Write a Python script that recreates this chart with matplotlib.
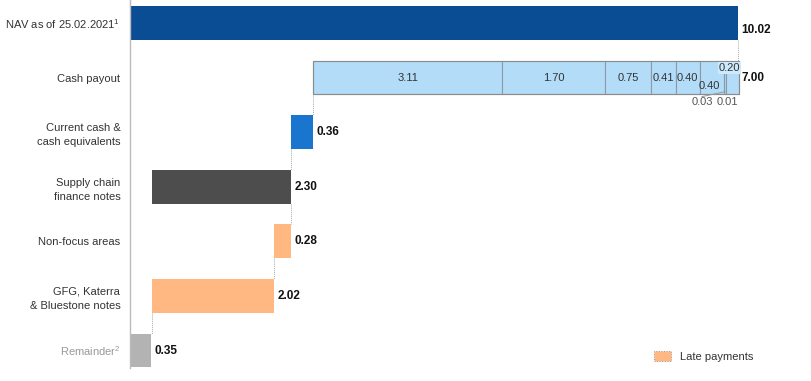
import numpy as np
import matplotlib.pyplot as plt
from matplotlib.patches import Patch

plt.rcParams['font.family'] = ['Liberation Sans', 'DejaVu Sans']
plt.rcParams['mathtext.fontset'] = 'custom'
plt.rcParams['mathtext.rm'] = 'Liberation Sans'

categories = ['NAV as of 25.02.2021$^{1}$', 'Cash payout', 'Current cash &\ncash equivalents',
              'Supply chain\nfinance notes', 'Non-focus areas', 'GFG, Katerra\n& Bluestone notes',
              'Remainder$^{2}$']
values = [10.02, 7.00, 0.36, 2.30, 0.28, 2.02, 0.35]
value_labels = ['10.02', '7.00', '0.36', '2.30', '0.28', '2.02', '0.35']
colors = ['#0b4d94', '#b3dcf8', '#1a75cf', '#4d4d4d', '#ffb882', '#ffb882', '#b3b3b3']

cash_parts = [3.11, 1.70, 0.75, 0.41, 0.40, 0.40, 0.03, 0.01, 0.20]
cash_part_labels = ['3.11', '1.70', '0.75', '0.41', '0.40', '0.40', '0.03', '0.01', '0.20']

# waterfall positions
nav = values[0]
lefts = [0.0] * 7
lefts[1] = nav - values[1]
lefts[2] = lefts[1] - values[2]
lefts[3] = lefts[2] - values[3]
lefts[4] = lefts[2] - values[4]
lefts[5] = lefts[4] - values[5]
lefts[6] = 0.0

fig = plt.figure(figsize=(8.11, 3.81), dpi=100)
ax = fig.add_axes([130 / 811, 13 / 381, 681 / 811, 368 / 381])
ax.set_xlim(0, 681 / 60.68)
ax.set_ylim(6.32, -0.42)

h = 0.62
y = np.arange(7)
for i in range(7):
    if i == 1:
        continue
    ax.barh(y[i], values[i], left=lefts[i], height=h, color=colors[i], edgecolor='none', zorder=2)

# cash payout split into parts
start = lefts[1]
seg_x = []
for v in cash_parts:
    ax.barh(1, v, left=start, height=h, color='#b3dcf8', edgecolor='#8c9aa8', linewidth=0.8, zorder=2)
    seg_x.append(start + v / 2)
    start += v
ax.barh(1, sum(cash_parts), left=lefts[1], height=h, color='none', edgecolor='#8c8c8c', linewidth=0.8, zorder=3)

fs = 8
for k in range(5):
    ax.text(seg_x[k], 1, cash_part_labels[k], ha='center', va='center', fontsize=fs, color='#333333', zorder=4)
ax.text(seg_x[5] - 0.05, 1.15, cash_part_labels[5], ha='center', va='center', fontsize=fs, color='#333333', zorder=4)
ax.text(seg_x[8] - 0.05, 0.83, cash_part_labels[8], ha='center', va='center', fontsize=fs, color='#333333', zorder=4,
        bbox=dict(boxstyle='square,pad=0.1', fc='#cde9fb', ec='none'))
ax.text(seg_x[6] - 0.38, 1.45, cash_part_labels[6], ha='center', va='center', fontsize=fs, color='#555555')
ax.text(seg_x[7] + 0.02, 1.45, cash_part_labels[7], ha='center', va='center', fontsize=fs, color='#555555')
ax.plot([seg_x[6] - 0.38, seg_x[6]], [1.35, 1.26], color='#999999', lw=0.7, zorder=4)

# value labels
for i in range(7):
    right = lefts[i] + values[i] if i != 1 else lefts[1] + sum(cash_parts)
    dy = 0.13 if i == 0 else 0
    ax.text(right + 0.05, y[i] + dy, value_labels[i], ha='left', va='center', fontsize=8.5,
            fontweight='bold', color='#111111')

# dotted connectors
conn = [(nav, 0, 1), (lefts[1], 1, 2), (lefts[2], 2, 3), (lefts[2], 3, 4), (lefts[4], 4, 5), (lefts[5], 5, 6)]
for xv, a, b in conn:
    ax.plot([xv, xv], [a + h / 2, b - h / 2], color='#aaaaaa', lw=0.7, ls=(0, (1, 1)), zorder=1)

ax.set_yticks(y)
ax.set_yticklabels(categories, fontsize=fs, color='#333333', linespacing=1.5)
ax.get_yticklabels()[6].set_color('#999999')
ax.tick_params(axis='y', length=0, pad=7)
ax.set_xticks([])
for s in ['top', 'right', 'bottom']:
    ax.spines[s].set_visible(False)
ax.spines['left'].set_color('#bbbbbb')
ax.spines['left'].set_linewidth(1)

leg = ax.legend(handles=[Patch(facecolor='#ffb882', edgecolor='#999999', linestyle=':', linewidth=0.7,
                               label='Late payments')],
                loc='lower right', bbox_to_anchor=(0.93, -0.01), frameon=False, fontsize=fs,
                handlelength=1.5, handleheight=1.0, handletextpad=0.8)
for t in leg.get_texts():
    t.set_color('#333333')

fig.savefig('out.png', dpi=100)
